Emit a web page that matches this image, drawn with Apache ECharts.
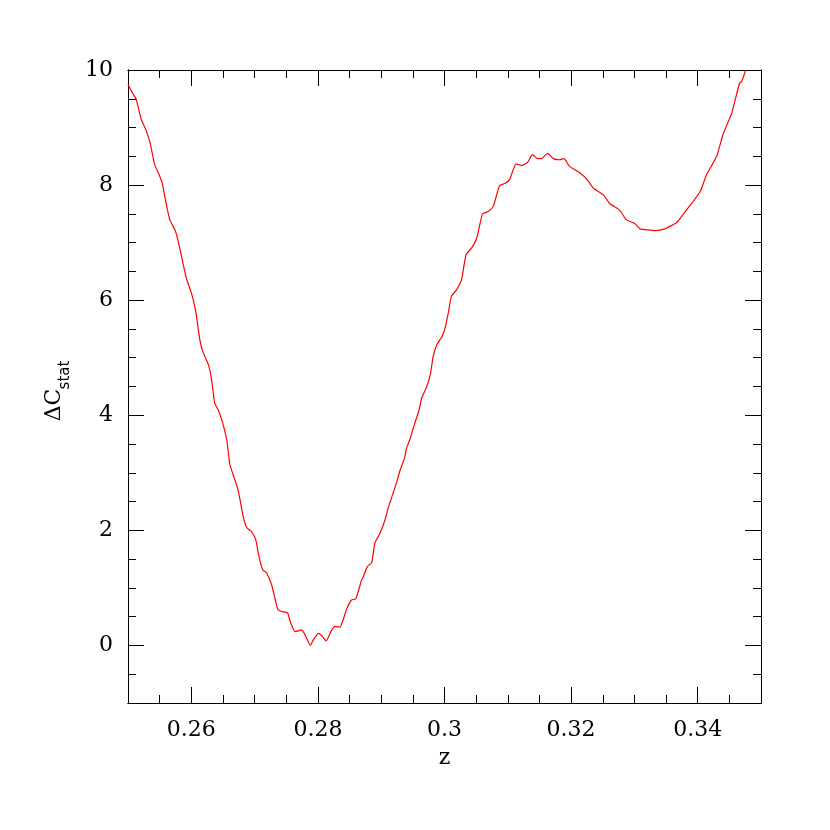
<!DOCTYPE html>
<html>
<head>
<meta charset="utf-8">
<script src="https://cdn.jsdelivr.net/npm/echarts@6/dist/echarts.min.js"></script>
<style>
  html, body { margin: 0; padding: 0; background: #fff; }
  #chart { width: 830px; height: 830px; }
</style>
</head>
<body>
<div id="chart"></div>
<script>
  // redshift grid and delta C-stat
  var zVals = [0.2500, 0.2507, 0.2513, 0.2521, 0.2528, 0.2535, 0.2542, 0.2548, 0.2554, 0.2560,
    0.2566, 0.2575, 0.2581, 0.2592, 0.2600, 0.2607, 0.2613, 0.2618, 0.2627, 0.2632,
    0.2637, 0.2643, 0.2649, 0.2656, 0.2661, 0.2666, 0.2674, 0.2682, 0.2688, 0.2695,
    0.2702, 0.2707, 0.2713, 0.2719, 0.2727, 0.2732, 0.2737, 0.2743, 0.2752, 0.2757,
    0.2764, 0.2774, 0.2780, 0.2788, 0.2793, 0.2801, 0.2806, 0.2813, 0.2822, 0.2827,
    0.2835, 0.2845, 0.2853, 0.2860, 0.2869, 0.2872, 0.2878, 0.2885, 0.2890, 0.2898,
    0.2906, 0.2911, 0.2918, 0.2924, 0.2930, 0.2937, 0.2940, 0.2945, 0.2953, 0.2960,
    0.2964, 0.2972, 0.2978, 0.2982, 0.2988, 0.2996, 0.3001, 0.3006, 0.3011, 0.3019,
    0.3027, 0.3034, 0.3043, 0.3051, 0.3060, 0.3069, 0.3077, 0.3087, 0.3096, 0.3103,
    0.3113, 0.3122, 0.3131, 0.3139, 0.3147, 0.3153, 0.3163, 0.3172, 0.3181, 0.3189,
    0.3197, 0.3214, 0.3225, 0.3235, 0.3251, 0.3261, 0.3277, 0.3287, 0.3301, 0.3309,
    0.3333, 0.3348, 0.3367, 0.3377, 0.3391, 0.3404, 0.3414, 0.3430, 0.3440, 0.3454,
    0.3466, 0.3469, 0.3476];
  var dcVals = [9.75, 9.60, 9.49, 9.14, 8.97, 8.73, 8.36, 8.21, 8.04, 7.69,
    7.40, 7.20, 6.94, 6.39, 6.13, 5.81, 5.34, 5.11, 4.88, 4.62,
    4.21, 4.08, 3.89, 3.57, 3.14, 2.97, 2.70, 2.24, 2.04, 1.98,
    1.83, 1.54, 1.31, 1.26, 1.05, 0.82, 0.62, 0.59, 0.57, 0.39,
    0.24, 0.27, 0.18, 0.00, 0.10, 0.21, 0.17, 0.08, 0.27, 0.33,
    0.32, 0.62, 0.79, 0.81, 1.14, 1.20, 1.37, 1.44, 1.78, 1.95,
    2.18, 2.39, 2.62, 2.82, 3.05, 3.26, 3.43, 3.57, 3.86, 4.10,
    4.30, 4.50, 4.73, 5.02, 5.23, 5.37, 5.52, 5.78, 6.07, 6.18,
    6.36, 6.79, 6.91, 7.08, 7.50, 7.54, 7.63, 7.99, 8.03, 8.10,
    8.37, 8.34, 8.39, 8.53, 8.46, 8.46, 8.55, 8.46, 8.44, 8.46,
    8.33, 8.21, 8.10, 7.95, 7.83, 7.68, 7.56, 7.40, 7.33, 7.24,
    7.21, 7.24, 7.35, 7.49, 7.69, 7.89, 8.18, 8.50, 8.88, 9.26,
    9.77, 9.79, 10.0];

  var xMajor = [0.26, 0.28, 0.30, 0.32, 0.34];
  var xMinor = [0.255, 0.26, 0.265, 0.27, 0.275, 0.28, 0.285, 0.29, 0.295, 0.30,
    0.305, 0.31, 0.315, 0.32, 0.325, 0.33, 0.335, 0.34, 0.345];
  var yMajor = [0, 2, 4, 6, 8, 10];
  var yMinor = [-0.5, 0, 0.5, 1, 1.5, 2, 2.5, 3, 3.5, 4, 4.5, 5, 5.5, 6, 6.5, 7, 7.5, 8, 8.5, 9, 9.5];

  var font = 'DejaVu Serif';
  var lineStyle = { color: '#000', width: 1 };

  function xAx(pos, ticks, len, labels) {
    return {
      type: 'value', position: pos, min: 0.25, max: 0.35,
      axisLine: { show: true, onZero: false, lineStyle: lineStyle },
      axisTick: { show: true, inside: true, length: len, customValues: ticks, lineStyle: lineStyle },
      axisLabel: labels ? {
        show: true, customValues: xMajor, margin: 16, color: '#000',
        fontFamily: font, fontSize: 22,
        formatter: function (v) { return String(+v.toFixed(2)); }
      } : { show: false },
      splitLine: { show: false }
    };
  }
  function yAx(pos, ticks, len, labels) {
    return {
      type: 'value', position: pos, min: -1, max: 10,
      axisLine: { show: true, onZero: false, lineStyle: lineStyle },
      axisTick: { show: true, inside: true, length: len, customValues: ticks, lineStyle: lineStyle },
      axisLabel: labels ? {
        show: true, customValues: yMajor, margin: 15, color: '#000',
        fontFamily: font, fontSize: 22
      } : { show: false },
      splitLine: { show: false }
    };
  }

  var xAxes = [xAx('bottom', xMajor, 16, true), xAx('bottom', xMinor, 8, false),
    xAx('top', xMajor, 16, false), xAx('top', xMinor, 8, false)];
  xAxes[0].name = 'z';
  xAxes[0].nameLocation = 'middle';
  xAxes[0].nameGap = 44;
  xAxes[0].nameTextStyle = { fontFamily: font, fontSize: 22, color: '#000' };

  var yAxes = [yAx('left', yMajor, 16, true), yAx('left', yMinor, 8, false),
    yAx('right', yMajor, 16, false), yAx('right', yMinor, 8, false)];

  var chart = echarts.init(document.getElementById('chart'));
  chart.setOption({
    animation: false,
    grid: { left: 128, right: 69, top: 70, bottom: 127 },
    xAxis: xAxes,
    yAxis: yAxes,
    // y title with a lowered subscript
    graphic: [
      {
        type: 'text', x: 54, y: 405, rotation: Math.PI / 2,
        style: { text: 'ΔC', font: '22px "DejaVu Serif"', fill: '#000', textAlign: 'center', textVerticalAlign: 'middle' }
      },
      {
        type: 'text', x: 65, y: 375, rotation: Math.PI / 2,
        style: { text: 'stat', font: '15px "DejaVu Sans"', fill: '#000', textAlign: 'center', textVerticalAlign: 'middle' }
      }
    ],
    series: [{
      type: 'line',
      xAxisIndex: 0, yAxisIndex: 0,
      data: zVals.map(function (z, i) { return [z, dcVals[i]]; }),
      showSymbol: false,
      smooth: 0.15,
      clip: true,
      lineStyle: { color: '#ff0000', width: 1.2 }
    }]
  });
</script>
</body>
</html>
